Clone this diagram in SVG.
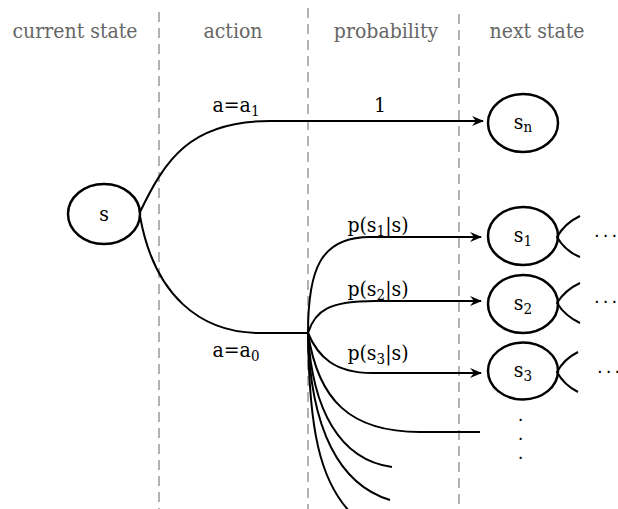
<svg xmlns="http://www.w3.org/2000/svg" width="618" height="509" viewBox="0 0 618 509">
<style>
.hdr{font-family:"DejaVu Serif Condensed","DejaVu Serif","Liberation Serif",serif;font-stretch:condensed;font-size:21px;fill:#666;text-anchor:middle}
.lbl{font-family:"DejaVu Serif Condensed","DejaVu Serif","Liberation Serif",serif;font-stretch:condensed;font-size:21px;fill:#000;text-anchor:middle}
.sub{font-size:15px}
.div{stroke:#999;stroke-width:1.5;stroke-dasharray:10,6;fill:none}
.node{fill:#fff;stroke:#000;stroke-width:2.5}
.edge{fill:none;stroke:#000;stroke-width:2}
.tail{fill:none;stroke:#000;stroke-width:2}
.dots{font-family:"DejaVu Sans",sans-serif;font-size:18px;fill:#000;letter-spacing:3px}
</style>
<defs>
<marker id="arr" viewBox="0 0 12 10" refX="11" refY="5" markerWidth="12" markerHeight="10" markerUnits="userSpaceOnUse" orient="auto">
<path d="M0,0 L12,5 L0,10 L4,5 z" fill="#000"/>
</marker>
</defs>
<g id="dividers">
<line class="div" x1="159" y1="12" x2="159" y2="509"/>
<line class="div" x1="308" y1="8" x2="308" y2="509"/>
<line class="div" x1="459" y1="14" x2="459" y2="509"/>
</g>
<g id="headers">
<text class="hdr" x="75" y="38">current state</text>
<text class="hdr" x="233" y="38">action</text>
<text class="hdr" x="386" y="38">probability</text>
<text class="hdr" x="537" y="38">next state</text>
</g>
<g id="connectors">
<path class="edge" d="M140,212 C165,160 190,121 270,121 L483,121" marker-end="url(#arr)"/>
<path class="edge" d="M140,216 C154,295 200,333 260,333 L308,333"/>
<path class="edge" d="M308,333 C308,270 320,237 370,237 L481,237" marker-end="url(#arr)"/>
<path class="edge" d="M308,333 C315,310 330,301 375,301 L481,301" marker-end="url(#arr)"/>
<path class="edge" d="M308,333 C318,357 335,373 372,373 L481,373" marker-end="url(#arr)"/>
<path class="edge" d="M308,333 C318,400 350,432 420,432 L480,432"/>
<path class="edge" d="M308,333 C312,410 340,460 392,467"/>
<path class="edge" d="M308,333 C310,430 340,485 390,500"/>
<path class="edge" d="M308,333 C309,430 320,480 350,512"/>
<text class="lbl" x="236" y="112">a=a<tspan class="sub" dy="4">1</tspan></text>
<text class="lbl" x="236" y="357">a=a<tspan class="sub" dy="4">0</tspan></text>
<text class="lbl" x="380" y="112">1</text>
<text class="lbl" x="378" y="232">p(s<tspan class="sub" dy="4">1</tspan><tspan dy="-4">|s)</tspan></text>
<text class="lbl" x="378" y="296">p(s<tspan class="sub" dy="4">2</tspan><tspan dy="-4">|s)</tspan></text>
<text class="lbl" x="378" y="360">p(s<tspan class="sub" dy="4">3</tspan><tspan dy="-4">|s)</tspan></text>
</g>
<g id="node-s">
<ellipse class="node" cx="104" cy="214" rx="36" ry="30"/>
<text class="lbl" x="104" y="221">s</text>
</g>
<g id="node-sn">
<ellipse class="node" cx="523" cy="123" rx="35" ry="29"/>
<text class="lbl" x="523" y="129">s<tspan class="sub" dy="3">n</tspan></text>
</g>
<g id="node-s1">
<ellipse class="node" cx="523" cy="236" rx="35" ry="29"/>
<text class="lbl" x="523" y="242">s<tspan class="sub" dy="4">1</tspan></text>
<path class="tail" d="M580,216 Q565,223 557,237 Q565,251 580,257"/>
<text class="dots" x="594" y="242">···</text>
</g>
<g id="node-s2">
<ellipse class="node" cx="523" cy="304" rx="35" ry="29"/>
<text class="lbl" x="523" y="310">s<tspan class="sub" dy="4">2</tspan></text>
<path class="tail" d="M580,283 Q565,290 557,303 Q565,316 580,323"/>
<text class="dots" x="594" y="308">···</text>
</g>
<g id="node-s3">
<ellipse class="node" cx="523" cy="371" rx="35" ry="28.5"/>
<text class="lbl" x="523" y="377">s<tspan class="sub" dy="4">3</tspan></text>
<path class="tail" d="M578,352 Q564,359 557,372 Q564,385 578,392"/>
<text class="dots" x="597" y="378">···</text>
</g>
<g id="vdots">
<text class="dots" x="522" y="426" text-anchor="middle">·</text>
<text class="dots" x="522" y="445" text-anchor="middle">·</text>
<text class="dots" x="522" y="464" text-anchor="middle">·</text>
</g>
</svg>
